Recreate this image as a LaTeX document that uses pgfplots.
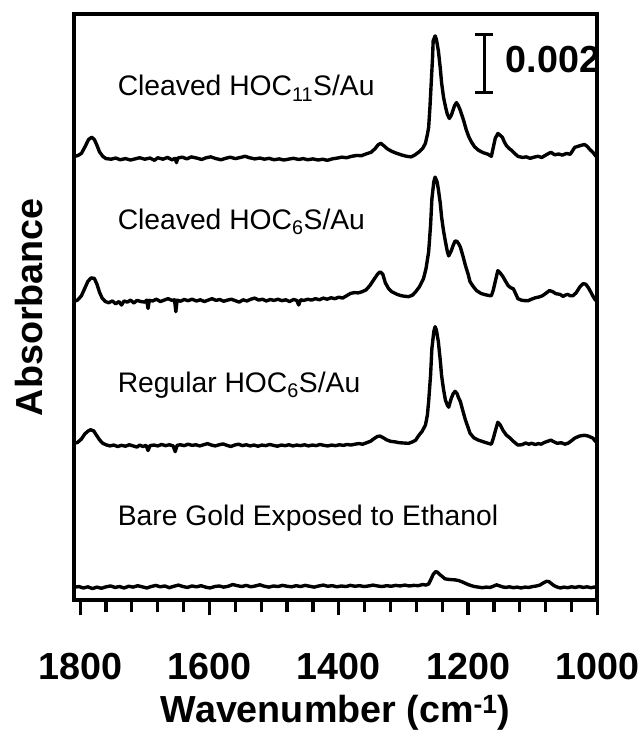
\documentclass[border=0pt]{standalone}
\usepackage{fontspec}
\setmainfont{Liberation Sans}
\usepackage{pgfplots}
\usepackage{pgfplotstable}
\pgfplotsset{compat=1.18}

% Absorbance in units of 0.001, each spectrum relative to its own baseline
\pgfplotstableread{
wn a
1810 0.00
1804 0.02
1798 0.10
1792 0.35
1787 0.58
1782 0.66
1778 0.58
1774 0.38
1770 0.15
1765 0.00
1760 -0.08
1752 -0.10
1745 -0.06
1738 -0.12
1730 -0.08
1722 -0.13
1715 -0.09
1708 -0.05
1700 -0.10
1692 -0.06
1685 -0.14
1680 -0.05
1672 -0.10
1665 -0.04
1658 -0.12
1653 -0.07
1651 -0.22
1649 -0.06
1642 -0.03
1635 -0.09
1628 -0.02
1620 -0.06
1612 -0.11
1605 -0.05
1598 -0.02
1590 -0.08
1582 -0.12
1575 -0.07
1568 -0.03
1560 -0.08
1552 -0.04
1545 0.00
1538 -0.05
1530 -0.09
1522 -0.06
1515 -0.10
1508 -0.07
1500 -0.12
1492 -0.09
1485 -0.13
1478 -0.10
1470 -0.07
1462 -0.11
1455 -0.08
1448 -0.12
1440 -0.09
1432 -0.13
1425 -0.10
1418 -0.14
1410 -0.09
1402 -0.06
1395 -0.03
1388 -0.05
1380 0.00
1372 0.03
1365 0.02
1358 0.08
1350 0.14
1344 0.26
1339 0.40
1335 0.45
1330 0.36
1325 0.26
1318 0.17
1310 0.10
1302 0.04
1295 0.00
1288 -0.02
1282 0.05
1276 0.15
1270 0.28
1266 0.45
1263 0.75
1261 1.00
1259 1.70
1257 2.55
1255 3.40
1254 4.00
1251 4.17
1249 4.05
1246 3.66
1243 3.05
1241 2.55
1238 2.05
1235 1.72
1232 1.45
1229 1.31
1226 1.42
1224 1.55
1221 1.75
1218 1.86
1215 1.75
1212 1.59
1207 1.25
1203 0.93
1199 0.68
1195 0.50
1190 0.33
1184 0.21
1176 0.12
1169 0.07
1164 0.00
1161 0.31
1158 0.62
1154 0.79
1150 0.72
1147 0.66
1144 0.50
1141 0.38
1137 0.28
1133 0.21
1128 0.10
1123 0.00
1116 -0.04
1110 -0.02
1104 -0.07
1098 -0.03
1092 0.00
1086 -0.04
1080 0.04
1072 0.14
1066 0.05
1060 0.08
1054 0.04
1048 0.10
1042 0.07
1035 0.31
1028 0.36
1020 0.41
1016 0.35
1011 0.22
1007 0.14
1003 0.02
1000 -0.02
}\specA

\pgfplotstableread{
wn a
1810 -0.10
1804 -0.05
1798 0.10
1793 0.35
1788 0.60
1783 0.72
1778 0.70
1774 0.50
1770 0.22
1766 0.02
1761 -0.10
1756 -0.14
1750 -0.08
1745 -0.18
1740 -0.10
1736 -0.22
1732 -0.08
1727 -0.12
1722 -0.05
1717 -0.15
1712 -0.06
1706 -0.10
1700 -0.12
1697 -0.05
1695 -0.34
1693 -0.06
1688 -0.08
1682 -0.02
1676 -0.10
1670 -0.05
1664 0.00
1658 -0.06
1654 -0.04
1652 -0.45
1650 -0.05
1645 -0.09
1639 -0.03
1633 -0.07
1627 -0.02
1620 -0.08
1614 -0.04
1608 -0.10
1602 -0.05
1596 0.00
1590 -0.06
1584 -0.03
1578 -0.09
1572 -0.05
1566 -0.02
1560 -0.07
1554 -0.12
1548 -0.04
1542 -0.08
1536 -0.02
1530 0.02
1524 -0.05
1518 -0.02
1512 -0.08
1506 -0.03
1500 -0.06
1494 -0.02
1488 -0.07
1482 -0.04
1476 -0.10
1470 -0.03
1465 -0.06
1462 -0.22
1459 -0.04
1454 -0.06
1448 -0.02
1442 -0.05
1436 0.00
1430 -0.04
1424 0.02
1418 -0.02
1412 0.03
1406 0.00
1400 0.05
1394 0.02
1388 0.10
1382 0.18
1376 0.21
1370 0.20
1364 0.24
1358 0.30
1352 0.45
1346 0.65
1340 0.85
1336 0.93
1332 0.85
1328 0.55
1323 0.35
1318 0.24
1310 0.15
1303 0.10
1297 0.08
1292 0.07
1286 0.12
1281 0.24
1275 0.42
1269 0.69
1265 1.05
1261 1.62
1258 2.55
1256 3.45
1253 4.05
1251 4.21
1248 4.05
1246 3.79
1243 3.30
1241 2.83
1238 2.35
1235 1.97
1232 1.62
1230 1.48
1226 1.66
1223 1.85
1220 2.00
1217 1.98
1214 1.88
1212 1.79
1208 1.48
1204 1.14
1200 0.85
1197 0.59
1192 0.42
1187 0.28
1180 0.18
1174 0.14
1168 0.11
1164 0.10
1161 0.30
1158 0.59
1154 0.97
1150 0.88
1146 0.76
1142 0.60
1138 0.45
1134 0.38
1130 0.34
1127 0.20
1123 0.00
1118 -0.05
1112 -0.07
1107 -0.07
1102 -0.02
1096 0.03
1090 0.06
1085 0.10
1080 0.18
1074 0.28
1069 0.24
1064 0.17
1058 0.15
1053 0.08
1050 0.12
1046 0.15
1042 0.10
1038 0.10
1033 0.20
1027 0.41
1022 0.52
1018 0.50
1014 0.38
1010 0.22
1006 0.05
1003 -0.05
1000 -0.10
}\specB

\pgfplotstableread{
wn a
1810 0.03
1804 0.06
1798 0.18
1793 0.35
1788 0.45
1784 0.50
1779 0.46
1775 0.32
1770 0.15
1765 0.03
1760 -0.02
1754 -0.06
1748 -0.03
1742 -0.08
1736 -0.04
1730 -0.07
1724 -0.02
1718 -0.06
1712 -0.10
1708 -0.03
1703 -0.08
1698 -0.04
1695 -0.22
1692 -0.05
1686 -0.03
1680 -0.06
1674 -0.01
1668 -0.05
1662 -0.02
1656 -0.06
1653 -0.26
1650 -0.04
1645 -0.02
1639 -0.05
1633 0.00
1627 -0.04
1621 -0.02
1615 -0.06
1609 -0.02
1603 0.02
1597 -0.03
1591 -0.06
1585 -0.02
1579 0.01
1573 -0.04
1567 -0.08
1561 -0.03
1555 0.00
1549 -0.05
1543 -0.02
1537 -0.06
1531 -0.03
1525 -0.07
1519 -0.03
1513 -0.05
1507 -0.01
1501 -0.04
1495 -0.07
1489 -0.03
1483 -0.05
1477 -0.02
1471 -0.06
1465 -0.03
1459 -0.05
1453 -0.02
1447 -0.06
1441 -0.03
1435 -0.05
1429 -0.01
1423 -0.04
1417 -0.06
1411 -0.03
1405 -0.05
1399 -0.02
1393 -0.04
1387 -0.01
1381 -0.03
1375 0.00
1369 0.02
1363 0.00
1357 0.05
1351 0.10
1345 0.20
1340 0.27
1336 0.28
1331 0.22
1326 0.15
1320 0.10
1313 0.08
1306 0.05
1299 0.04
1292 0.03
1286 0.08
1281 0.14
1277 0.28
1271 0.45
1266 0.66
1263 1.00
1261 1.48
1258 2.40
1256 3.31
1253 3.90
1251 4.07
1249 3.95
1246 3.55
1243 2.90
1241 2.38
1238 1.90
1235 1.52
1232 1.35
1230 1.28
1226 1.59
1223 1.75
1220 1.83
1217 1.75
1215 1.62
1212 1.48
1208 1.15
1204 0.83
1200 0.58
1197 0.38
1191 0.22
1184 0.14
1176 0.08
1169 0.03
1164 0.00
1161 0.20
1158 0.45
1154 0.76
1150 0.66
1146 0.48
1141 0.32
1135 0.21
1129 0.08
1123 -0.03
1117 -0.02
1111 0.04
1106 0.00
1102 0.03
1096 -0.01
1091 0.02
1087 0.00
1082 0.06
1077 0.10
1072 0.14
1067 0.08
1062 0.03
1056 0.05
1050 0.00
1045 0.04
1040 0.12
1035 0.21
1028 0.28
1020 0.31
1014 0.28
1007 0.21
1003 0.10
1000 0.05
}\specC

\pgfplotstableread{
wn a
1810 0.00
1802 0.03
1795 -0.02
1788 0.02
1781 -0.04
1774 0.01
1767 -0.03
1760 0.02
1753 0.05
1746 0.00
1739 0.03
1732 -0.02
1725 0.04
1718 0.01
1711 0.06
1704 0.02
1697 -0.02
1690 0.03
1683 0.07
1676 0.02
1669 0.05
1662 -0.01
1655 0.04
1648 0.08
1641 0.03
1634 0.00
1627 0.05
1620 0.02
1613 0.06
1606 0.01
1599 -0.02
1592 0.03
1585 0.05
1578 0.01
1571 0.04
1564 0.10
1557 0.06
1550 0.03
1543 0.07
1536 0.02
1529 0.05
1522 0.09
1515 0.04
1508 0.01
1501 0.05
1494 0.03
1487 0.07
1480 0.04
1473 0.02
1466 0.06
1459 0.03
1452 0.07
1445 0.04
1438 0.01
1431 0.05
1424 0.08
1417 0.04
1410 0.06
1403 0.02
1396 0.05
1389 0.03
1382 0.07
1375 0.04
1368 0.06
1361 0.03
1354 0.05
1347 0.08
1340 0.05
1333 0.03
1326 0.06
1319 0.04
1312 0.07
1305 0.05
1298 0.08
1291 0.05
1284 0.07
1277 0.06
1270 0.10
1265 0.08
1261 0.12
1257 0.30
1254 0.45
1250 0.55
1247 0.52
1244 0.45
1240 0.38
1236 0.30
1231 0.28
1226 0.27
1220 0.26
1215 0.24
1210 0.20
1205 0.15
1200 0.10
1195 0.06
1190 0.03
1184 0.01
1178 -0.01
1172 0.01
1166 0.00
1161 0.04
1156 0.09
1152 0.06
1147 0.02
1142 0.00
1136 0.02
1130 -0.01
1124 0.01
1118 -0.02
1112 0.01
1106 0.00
1100 0.03
1094 0.05
1089 0.08
1084 0.15
1079 0.21
1075 0.20
1071 0.13
1067 0.06
1062 0.01
1057 -0.02
1052 0.01
1046 -0.01
1040 0.02
1034 0.00
1028 0.03
1022 0.00
1016 0.02
1010 -0.01
1005 0.01
1000 0.00
}\specD

\newcommand\bigbold{\fontsize{38}{42}\selectfont\bfseries}
\newcommand\labfont{\fontsize{28.5}{32}\selectfont}

\begin{document}
\begin{tikzpicture}
\begin{axis}[
  name=spec, at={(0,0)}, anchor=south west,
  scale only axis, width=526bp, height=589bp,
  line width=4bp,
  axis line style={line width=4bp},
  x dir=reverse, xmin=1000, xmax=1810, ymin=0, ymax=20.31,
  xtick={1000,1200,1400,1600,1800}, minor x tick num=4,
  xtick pos=bottom, ytick=\empty, tick align=outside,
  major tick length=15bp, minor tick length=12bp,
  every tick/.style={black, line width=3.2bp},
  /pgf/number format/assume math mode=true,
  /pgf/number format/1000 sep={},
  xticklabel style={font=\bigbold, anchor=base, yshift=-64bp},
  xlabel={Wavenumber (cm\textsuperscript{-1})},
  xlabel style={font=\bigbold, at={(axis description cs:0.5,0)}, anchor=base, yshift=-123bp},
  ylabel={Absorbance},
  ylabel style={font=\bigbold, at={(axis description cs:-0.0589,0.5)}, anchor=base},
]
\addplot[black, line width=3.4bp, line join=round] table[x=wn, y expr=\thisrow{a}+15.38] {\specA};
\addplot[black, line width=3.4bp, line join=round] table[x=wn, y expr=\thisrow{a}+10.45] {\specB};
\addplot[black, line width=3.4bp, line join=round] table[x=wn, y expr=\thisrow{a}+5.41] {\specC};
\addplot[black, line width=3.4bp, line join=round] table[x=wn, y expr=\thisrow{a}+0.45] {\specD};
% scale bar: 0.002 absorbance units, with end caps
\addplot[black, line width=3.2bp] coordinates {(1175,17.59) (1175,19.59)};
\addplot[black, line width=3.2bp] coordinates {(1189,17.59) (1161,17.59)};
\addplot[black, line width=3.2bp] coordinates {(1189,19.59) (1161,19.59)};
\node[anchor=base west, font=\bigbold] at (axis cs:1150,18.28) {0.002};
\node[anchor=base west, font=\labfont] at (axis cs:1750,17.47) {Cleaved HOC\textsubscript{11}S/Au};
\node[anchor=base west, font=\labfont] at (axis cs:1750,12.86) {Cleaved HOC\textsubscript{6}S/Au};
\node[anchor=base west, font=\labfont] at (axis cs:1750,7.21) {Regular HOC\textsubscript{6}S/Au};
\node[anchor=base west, font=\labfont] at (axis cs:1750,2.59) {Bare Gold Exposed to Ethanol};
\end{axis}
\path[use as bounding box] (-74bp,-131bp) rectangle (572bp,603bp);
\end{tikzpicture}
\end{document}
